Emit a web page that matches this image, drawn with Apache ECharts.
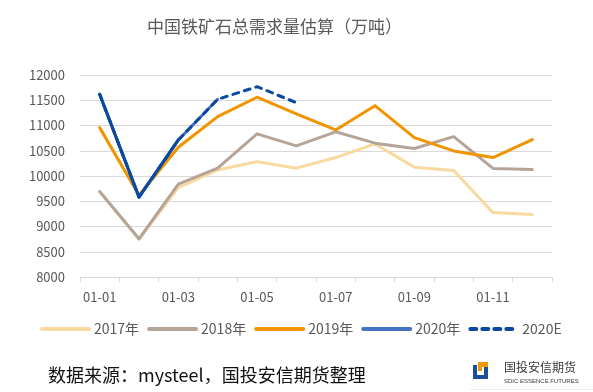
<!DOCTYPE html>
<html>
<head>
<meta charset="utf-8">
<script src="https://cdn.jsdelivr.net/npm/echarts@6/dist/echarts.min.js"></script>
<style>
html,body{margin:0;padding:0;background:#fff;}
#chart{width:593px;height:392px;}
</style>
</head>
<body>
<div id="chart"></div>
<script>
var categories = ['01-01','01-02','01-03','01-04','01-05','01-06','01-07','01-08','01-09','01-10','01-11','01-12'];
var yTicks = [8000, 12000, 500];
var y2017 = [9690, 8745, 9770, 10120, 10285, 10155, 10365, 10635, 10175, 10110, 9275, 9240];
var y2018 = [9692, 8757, 9840, 10155, 10835, 10596, 10875, 10650, 10545, 10780, 10150, 10130];
var y2019 = [10958, 9620, 10570, 11175, 11560, 11230, 10912, 11393, 10760, 10497, 10365, 10721];
var y2020 = [11618, 9582, 10714, 11519, null, null, null, null, null, null, null, null];
var y2020E = [11618, 9582, 10714, 11519, 11768, 11452, null, null, null, null, null, null];
var y2020Esolid = [11618, 9582, 10714, null, null, null, null, null, null, null, null, null];
var seriesNames = ['2017年','2018年','2019年','2020年','2020E'];
var titleText = '中国铁矿石总需求量估算（万吨）';
var sourceText = '数据来源：mysteel，国投安信期货整理';

var FONT = "'Noto Sans CJK SC', 'Noto Sans', sans-serif";
var chart = echarts.init(document.getElementById('chart'), null, {renderer: 'canvas'});

function lineSeries(name, data, color, opts) {
  var s = {
    name: name, type: 'line', data: data, symbol: 'none', showSymbol: false,
    connectNulls: false, animation: false,
    lineStyle: {color: color, width: 3, cap: 'round', join: 'round'},
    itemStyle: {color: color}
  };
  if (opts) { for (var k in opts) s[k] = opts[k]; }
  return s;
}

var option = {
  animation: false,
  textStyle: {fontFamily: FONT},
  title: {
    text: titleText, left: 142, top: 13,
    textStyle: {fontFamily: FONT, fontSize: 17, fontWeight: 'normal', color: '#595959'}
  },
  grid: {left: 80, right: 41, top: 75, bottom: 115, containLabel: false},
  legend: {
    data: seriesNames, left: 35, top: 317,
    itemWidth: 47, itemHeight: 14, itemGap: 8,
    textStyle: {fontFamily: FONT, fontSize: 14, color: '#595959'},
    itemStyle: {color: 'rgba(0,0,0,0)', borderColor: 'rgba(0,0,0,0)', borderWidth: 0},
    lineStyle: {width: 4}
  },
  xAxis: {
    type: 'category', data: categories, boundaryGap: true,
    axisLine: {lineStyle: {color: '#d9d9d9', width: 1}},
    axisTick: {show: true, interval: 0, length: 5, lineStyle: {color: '#d9d9d9'}},
    axisLabel: {interval: 1, margin: 14, fontFamily: FONT, fontSize: 13, color: '#595959'},
    splitLine: {show: false}
  },
  yAxis: {
    type: 'value', min: yTicks[0], max: yTicks[1], interval: yTicks[2],
    axisLine: {show: false}, axisTick: {show: false},
    axisLabel: {margin: 15, fontFamily: FONT, fontSize: 13, color: '#595959',
      formatter: function (v) { return String(v); }},
    splitLine: {lineStyle: {color: '#d9d9d9', width: 1}}
  },
  series: [
    lineSeries('2017年', y2017, '#F8D9A0'),
    lineSeries('2018年', y2018, '#B5A598'),
    lineSeries('2019年', y2019, '#F09400'),
    lineSeries('2020年', y2020, '#4472C4'),
    lineSeries('2020E', y2020E, '#0B4A9E', {lineStyle: {color: '#0B4A9E', width: 3, type: [6, 6], cap: 'round', join: 'round'}}),
    lineSeries('2020E', y2020Esolid, '#0B4A9E')
  ],
  graphic: [
    {type: 'text', left: 48, top: 366, style: {text: sourceText, font: '18px ' + FONT, fill: '#111'}},
    {type: 'rect', shape: {x: 478, y: 362, width: 10, height: 5}, style: {fill: '#F39800'}},
    {type: 'rect', shape: {x: 478, y: 362, width: 4, height: 9}, style: {fill: '#F39800'}},
    {type: 'rect', shape: {x: 473, y: 365, width: 4, height: 14}, style: {fill: '#1D4E9E'}},
    {type: 'rect', shape: {x: 473, y: 375, width: 15, height: 4}, style: {fill: '#1D4E9E'}},
    {type: 'rect', shape: {x: 484, y: 367, width: 4, height: 12}, style: {fill: '#1D4E9E'}},
    {type: 'text', left: 504, top: 361, style: {text: '国投安信期货', font: '12px ' + FONT, fill: '#3a3a3a'}},
    {type: 'text', left: 504, top: 378, style: {text: 'SDIC ESSENCE FUTURES', font: '6px Liberation Sans, sans-serif', fill: '#3a3a3a'}},
    {type: 'line', shape: {x1: 470, y1: 389.5, x2: 593, y2: 389.5}, style: {stroke: '#eeeeee', lineWidth: 1}}
  ]
};
chart.setOption(option);
</script>
</body>
</html>
